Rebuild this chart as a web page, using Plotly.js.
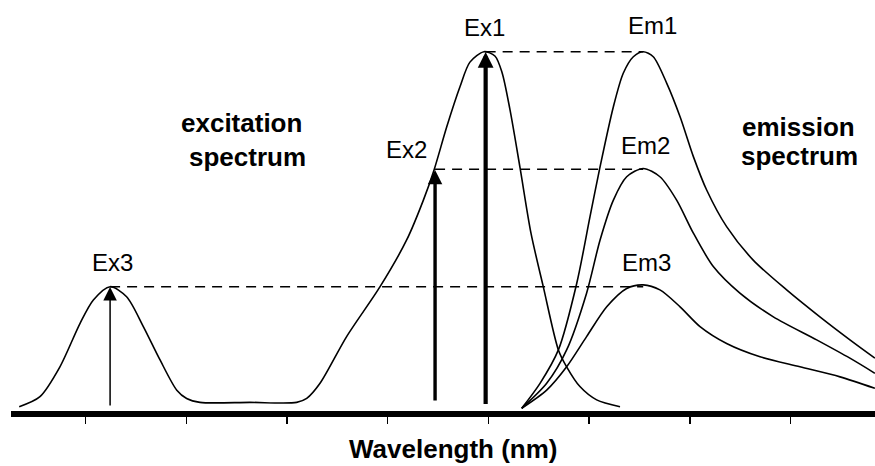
<!DOCTYPE html>
<html>
<head>
<meta charset="utf-8">
<script src="https://cdn.plot.ly/plotly-3.0.1.min.js"></script>
<style>
  html, body { margin: 0; padding: 0; background: #ffffff; }
  #chart { width: 875px; height: 466px; }
</style>
</head>
<body>
<div id="chart"></div>
<script>
// ---- Data (wavelength in arbitrary nm units, intensity normalised to Ex1 = 100) ----
const tickWavelengths = [300, 350, 400, 450, 500, 550, 600, 650];

const excitationWl = [267.1, 277.4, 287.3, 297.3, 303.9, 312.2, 320.4, 328.7, 337.0, 345.3, 350.2, 356.8, 381.6, 404.8, 409.8, 416.4, 429.6, 446.2, 459.4, 467.7, 473.0, 479.3, 485.9, 490.8, 497.8, 503.2, 506.7, 510.7, 515.7, 521.1, 527.2, 534.7, 538.8, 545.4, 553.7, 565.3];
const excitationI  = [1.2, 4.0, 12.3, 24.4, 30.9, 34.6, 31.8, 23.5, 14.2, 5.8, 3.5, 2.4, 2.4, 2.4, 3.5, 7.7, 20.7, 34.6, 47.6, 58.7, 67.1, 79.1, 90.3, 97.1, 100, 98.8, 94.3, 83.8, 67.6, 49.5, 34.6, 17.0, 12.3, 6.8, 3.1, 1.2];

const em1Wl = [516.5, 525.6, 534.7, 543.8, 550.4, 555.4, 562.0, 566.9, 571.9, 576.8, 581.8, 588.5, 595.1, 601.7, 608.3, 618.2, 631.4, 648.0, 664.5, 679.4, 691.8];
const em1I  = [0.75, 7.7, 17.0, 35.5, 54.1, 68.0, 84.7, 94.0, 98.6, 100, 98.6, 91.2, 81.9, 70.8, 61.5, 51.3, 42.0, 33.7, 26.2, 19.8, 14.7];

const em2Wl = [516.5, 528.9, 538.8, 548.7, 555.4, 562.0, 568.6, 576.8, 585.1, 593.4, 601.7, 611.6, 624.8, 641.4, 662.9, 679.4, 691.8];
const em2I  = [0.75, 7.7, 17.0, 32.8, 47.6, 58.7, 65.2, 67.5, 65.2, 58.7, 49.5, 40.2, 32.8, 26.2, 19.8, 14.7, 10.5];

const em3Wl = [516.5, 528.9, 538.8, 548.7, 558.7, 568.6, 576.8, 585.1, 595.1, 605.0, 618.2, 634.8, 654.6, 674.5, 691.8];
const em3I  = [0.75, 5.8, 12.3, 20.7, 29.0, 34.1, 35.1, 33.7, 29.0, 23.5, 18.8, 15.1, 12.3, 9.5, 6.3];

// excitation arrows: wavelength, base intensity, tip intensity
const arrowNames = ['Ex1', 'Ex2', 'Ex3'];
const arrowWl    = [498.6, 473.5, 312.2];
const arrowBase  = [1.5, 2.5, 1.1];
const arrowTip   = [99.9, 67.1, 34.5];
const arrowWidth = [4.2, 3.4, 1.5];
const arrowSize  = [0.75, 0.85, 1.8];

// dashed connectors: start wavelength, end wavelength, level
const guideStart = [498.6, 473.5, 312.2];
const guideEnd   = [576.8, 576.8, 576.8];
const guideLevel = [100, 67.3, 34.6];

// peak labels
const labelText = ['Ex1', 'Ex2', 'Ex3', 'Em1', 'Em2', 'Em3'];
const labelWl   = [498.2, 459.3, 313.4, 581.4, 577.7, 578.2];
const labelI    = [106.6, 72.9, 41.2, 107.3, 73.8, 41.3];

// bold region labels
const regionText = ['excitation', 'spectrum', 'emission', 'spectrum'];
const regionWl   = [377.2, 380.4, 654.1, 654.6];
const regionI    = [80.2, 70.7, 79.0, 71.0];

const axisTitle = 'Wavelength (nm)';
const axisTitleWl = 482.4;

// ---- Plot ----
const FONT = '"Liberation Sans", Arial, Helvetica, sans-serif';
const curve = { color: '#000000', width: 1.6, shape: 'spline', smoothing: 0.8 };

const traces = [
  { x: excitationWl, y: excitationI, mode: 'lines', line: curve, name: 'excitation', hoverinfo: 'skip' },
  { x: em1Wl, y: em1I, mode: 'lines', line: curve, name: 'Em1', hoverinfo: 'skip' },
  { x: em2Wl, y: em2I, mode: 'lines', line: curve, name: 'Em2', hoverinfo: 'skip' },
  { x: em3Wl, y: em3I, mode: 'lines', line: curve, name: 'Em3', hoverinfo: 'skip' }
];
for (let i = 0; i < guideLevel.length; i++) {
  traces.push({
    x: [guideStart[i], guideEnd[i]], y: [guideLevel[i], guideLevel[i]],
    mode: 'lines', line: { color: '#000000', width: 1.5, dash: '10px,7px' },
    hoverinfo: 'skip'
  });
}

const annotations = [];
for (let i = 0; i < arrowNames.length; i++) {
  annotations.push({
    x: arrowWl[i], y: arrowTip[i], xref: 'x', yref: 'y',
    ax: arrowWl[i], ay: arrowBase[i], axref: 'x', ayref: 'y',
    text: '', showarrow: true, arrowhead: 2, arrowsize: arrowSize[i],
    arrowwidth: arrowWidth[i], arrowcolor: '#000000', standoff: 0, startstandoff: 0
  });
}
for (let i = 0; i < labelText.length; i++) {
  annotations.push({
    x: labelWl[i], y: labelI[i], xref: 'x', yref: 'y', text: labelText[i],
    showarrow: false, xanchor: 'center', yanchor: 'middle',
    font: { family: FONT, size: 24, color: '#000000' }
  });
}
for (let i = 0; i < regionText.length; i++) {
  annotations.push({
    x: regionWl[i], y: regionI[i], xref: 'x', yref: 'y', text: '<b>' + regionText[i] + '</b>',
    showarrow: false, xanchor: 'center', yanchor: 'middle',
    font: { family: FONT, size: 26, color: '#000000' }
  });
}
annotations.push({
  x: axisTitleWl, y: 0, xref: 'x', yref: 'paper', yshift: -38,
  text: '<b>' + axisTitle + '</b>', showarrow: false, xanchor: 'center', yanchor: 'middle',
  font: { family: FONT, size: 26, color: '#000000' }
});

const layout = {
  width: 875, height: 466,
  margin: { l: 11, r: 0, t: 0, b: 55, pad: 0 },
  paper_bgcolor: '#ffffff', plot_bgcolor: '#ffffff',
  showlegend: false,
  font: { family: FONT, color: '#000000' },
  xaxis: {
    range: [263.02, 691.85], fixedrange: true,
    showgrid: false, zeroline: false,
    showline: true, linewidth: 6, linecolor: '#000000',
    tickmode: 'array', tickvals: tickWavelengths, showticklabels: false,
    ticks: 'outside', ticklen: 7, tickwidth: 1.5, tickcolor: '#000000'
  },
  yaxis: {
    range: [0, 114.39], fixedrange: true, visible: false,
    showgrid: false, zeroline: false
  },
  annotations: annotations
};

Plotly.newPlot('chart', traces, layout, { staticPlot: true, displayModeBar: false });
</script>
</body>
</html>
